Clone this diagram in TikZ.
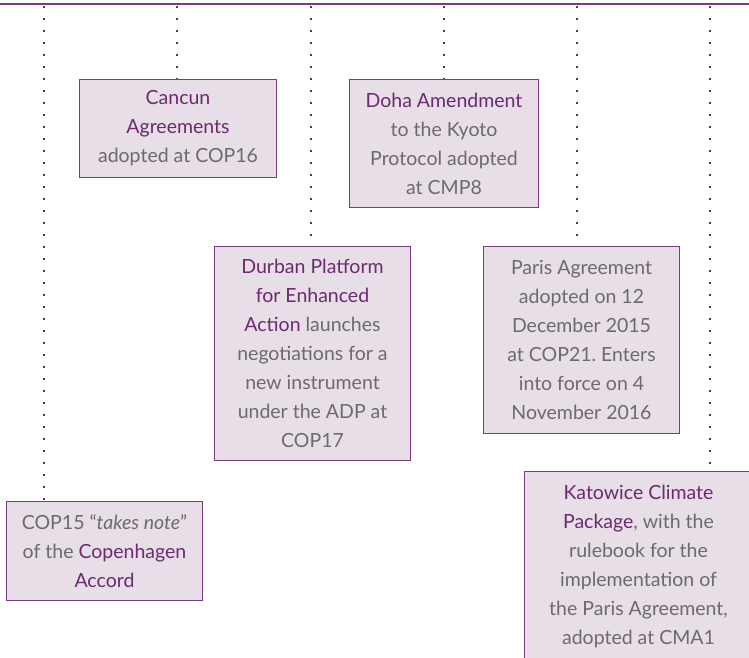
\documentclass[tikz,border=0pt]{standalone}
\usepackage{fontspec}
\setmainfont{Lato}
\frenchspacing
\definecolor{plum}{HTML}{6C2A70}
\definecolor{plumline}{HTML}{7A3E7C}
\definecolor{boxfill}{HTML}{E7DEE7}
\definecolor{greytext}{HTML}{6B6B6B}
\newcommand{\hl}[1]{\textcolor{plum}{#1}}
\tikzset{
  eventbox/.style={draw=plumline, fill=boxfill, line width=1pt, align=center,
    inner sep=0pt, anchor=north west, text=greytext,
    font=\fontsize{19.5}{29}\selectfont},
  stem/.style={plum, line width=2pt, dash pattern=on 2pt off 10pt},
  rail/.style={plumline, line width=2pt}
}
\begin{document}
\begin{tikzpicture}[x=1pt,y=-1pt]
  \useasboundingbox (0,0) rectangle (749,657);
  \clip (0,0) rectangle (749,657);
  \fill[white] (0,0) rectangle (749,657);

  % timeline rail along the top
  \coordinate (railL) at (0,4);
  \coordinate (railR) at (749,4);
  \draw[rail] (railL) -- (railR);

  % event boxes
  \node[eventbox, minimum width=196, minimum height=99] (cop15) at (6,501)
    {COP15 ``\textit{takes note}''\\ of the \hl{Copenhagen}\\ \hl{Accord}};
  \node[eventbox, minimum width=197, minimum height=98] (cancun) at (79,79)
    {\hl{Cancun}\\ \hl{Agreements}\\ adopted at COP16};
  \node[eventbox, minimum width=189, minimum height=128] (doha) at (349,79)
    {\hl{Doha Amendment}\\ to the Kyoto\\ Protocol adopted\\ at CMP8};
  \node[eventbox, minimum width=196, minimum height=214] (durban) at (214,246)
    {\hl{Durban Platform}\\ \hl{for Enhanced}\\ \hl{Action} launches\\ negotiations for a\\ new instrument\\ under the ADP at\\ COP17};
  \node[eventbox, minimum width=196, minimum height=187] (paris) at (483,246)
    {Paris Agreement\\ adopted on 12\\ December 2015\\ at COP21. Enters\\ into force on 4\\ November 2016};
  % the Katowice box runs on past the lower and right edges
  \node[eventbox, minimum width=228, minimum height=204, text depth=18pt] (katowice) at (524,471)
    {\hl{Katowice Climate}\\ \hl{Package}, with the\\ rulebook for the\\ implementation of\\ the Paris Agreement,\\ adopted at CMA1};

  % dotted stems from the rail down to each box
  \coordinate (s1) at (44,6);
  \coordinate (s2) at (177,6);
  \coordinate (s3) at (311,6);
  \coordinate (s4) at (444,6);
  \coordinate (s5) at (577,6);
  \coordinate (s6) at (710,6);
  \draw[stem] (s1) -- (s1 |- cop15.north);
  \draw[stem] (s2) -- (s2 |- cancun.north);
  \draw[stem] (s3) -- (s3 |- durban.north);
  \draw[stem] (s4) -- (s4 |- doha.north);
  \draw[stem] (s5) -- (s5 |- paris.north);
  \draw[stem] (s6) -- (s6 |- katowice.north);
\end{tikzpicture}
\end{document}
